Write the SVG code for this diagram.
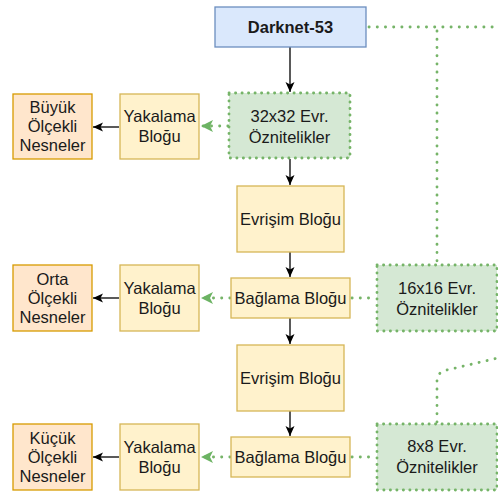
<svg xmlns="http://www.w3.org/2000/svg" width="498" height="493" viewBox="0 0 498 493">
<defs>
<style>
text{font-family:"Liberation Sans",Arial,sans-serif;font-size:16.5px;fill:#1a1a1a;text-anchor:middle}
.b{font-weight:bold}
.blue{fill:#dae8fc;stroke:#6c8ebf;stroke-width:1.3}
.grn{fill:#d5e8d4;stroke:#76b468;stroke-width:2.8;stroke-dasharray:0.2 6.3;stroke-linecap:round}
.yel{fill:#fff2cc;stroke:#d6b656;stroke-width:1.3}
.org{fill:#ffe6cc;stroke:#d79b00;stroke-width:1.3}
.ar{fill:none;stroke:#000;stroke-width:1.3}
.gd{fill:none;stroke:#76b468;stroke-width:2.8;stroke-dasharray:0.2 8;stroke-linecap:round}
</style>
<marker id="ab" markerUnits="userSpaceOnUse" markerWidth="12" markerHeight="12" viewBox="0 0 12 12" refX="11" refY="6" orient="auto">
<path d="M1,1.5 L11,6 L1,10.5 L3.5,6 Z" fill="#000"/>
</marker>
<marker id="ag" markerUnits="userSpaceOnUse" markerWidth="14" markerHeight="14" viewBox="0 0 14 14" refX="13" refY="7" orient="auto">
<path d="M1,1 L13,7 L1,13 L4,7 Z" fill="#6cb363"/>
</marker>
</defs>
<g id="connectors">
<path class="ar" d="M290,47 V92" marker-end="url(#ab)"/>
<path class="ar" d="M290,159 V185" marker-end="url(#ab)"/>
<path class="ar" d="M290,252 V277" marker-end="url(#ab)"/>
<path class="ar" d="M290,318 V344" marker-end="url(#ab)"/>
<path class="ar" d="M290,411 V436" marker-end="url(#ab)"/>
<path class="ar" d="M119,127 H93" marker-end="url(#ab)"/>
<path class="ar" d="M119,298 H93" marker-end="url(#ab)"/>
<path class="ar" d="M119,457 H93" marker-end="url(#ab)"/>
<path class="gd" d="M228,126 H201" marker-end="url(#ag)"/>
<path class="gd" d="M230,298 H201" marker-end="url(#ag)"/>
<path class="gd" d="M230,457 H201" marker-end="url(#ag)"/>
<path class="gd" d="M352,298 H376"/>
<path class="gd" d="M352,457 H376"/>
<path class="gd" d="M369,27 H498"/>
<path class="gd" d="M437,31 V264"/>
<path class="gd" d="M437,422 V381 Q437,372 447,370 L498,358"/>
</g>
<g id="darknet"><rect class="blue" x="215" y="7" width="151" height="40"/><text class="b" x="290.5" y="33">Darknet-53</text></g>
<g id="f32"><rect class="grn" x="229" y="93" width="121" height="65"/><text x="289.5" y="122">32x32 Evr.</text><text x="289.5" y="143">Öznitelikler</text></g>
<g id="conv1"><rect class="yel" x="237" y="186" width="107" height="66"/><text x="290.5" y="225">Evrişim Bloğu</text></g>
<g id="concat1"><rect class="yel" x="231" y="278" width="119" height="40"/><text x="290.5" y="304">Bağlama Bloğu</text></g>
<g id="f16"><rect class="grn" x="377" y="265" width="120" height="66"/><text x="437" y="294">16x16 Evr.</text><text x="437" y="315">Öznitelikler</text></g>
<g id="conv2"><rect class="yel" x="237" y="345" width="107" height="66"/><text x="290.5" y="384">Evrişim Bloğu</text></g>
<g id="concat2"><rect class="yel" x="231" y="437" width="119" height="40"/><text x="290.5" y="463">Bağlama Bloğu</text></g>
<g id="f8"><rect class="grn" x="377" y="424" width="120" height="66"/><text x="437" y="452">8x8 Evr.</text><text x="437" y="473">Öznitelikler</text></g>
<g id="det1"><rect class="yel" x="120" y="94" width="79" height="65"/><text x="159.5" y="122">Yakalama</text><text x="159.5" y="142">Bloğu</text></g>
<g id="det2"><rect class="yel" x="120" y="265" width="79" height="66"/><text x="159.5" y="294">Yakalama</text><text x="159.5" y="314">Bloğu</text></g>
<g id="det3"><rect class="yel" x="120" y="424" width="79" height="66"/><text x="159.5" y="453">Yakalama</text><text x="159.5" y="473">Bloğu</text></g>
<g id="out1"><rect class="org" x="13" y="94" width="79" height="65"/><text x="52.5" y="113">Büyük</text><text x="52.5" y="132">Ölçekli</text><text x="52.5" y="151">Nesneler</text></g>
<g id="out2"><rect class="org" x="13" y="265" width="79" height="66"/><text x="52.5" y="285">Orta</text><text x="52.5" y="304">Ölçekli</text><text x="52.5" y="323">Nesneler</text></g>
<g id="out3"><rect class="org" x="13" y="424" width="79" height="66"/><text x="52.5" y="444">Küçük</text><text x="52.5" y="463">Ölçekli</text><text x="52.5" y="482">Nesneler</text></g>
</svg>
